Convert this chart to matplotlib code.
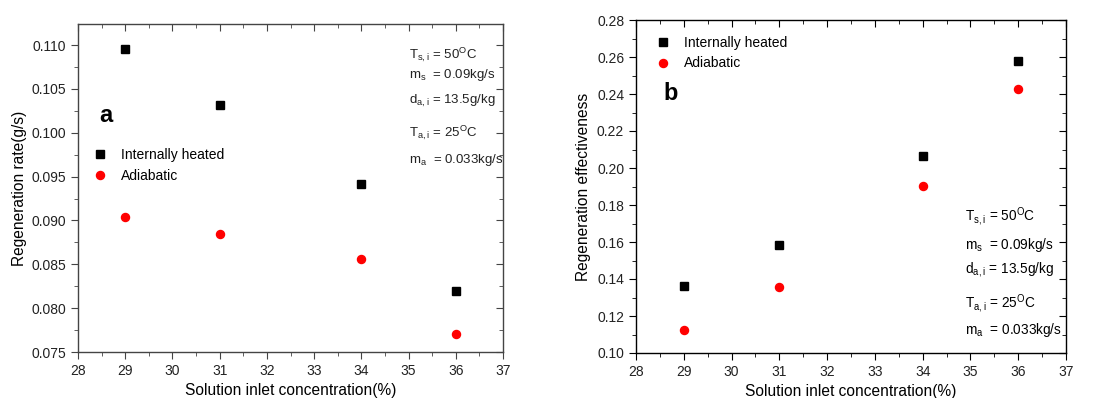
import numpy as np
import matplotlib.pyplot as plt
from matplotlib.ticker import MultipleLocator

plt.rcParams['font.family'] = ['Liberation Sans', 'DejaVu Sans']
plt.rcParams['mathtext.default'] = 'regular'

conc = [29, 31, 34, 36]

# regeneration rate (g/s)
rate_heated = [0.1095, 0.1032, 0.0942, 0.0820]
rate_adiabatic = [0.0904, 0.0885, 0.0856, 0.0771]

# regeneration effectiveness
eff_heated = [0.1364, 0.1584, 0.2063, 0.2578]
eff_adiabatic = [0.1126, 0.1357, 0.1903, 0.2425]

conditions = [r'T$_{s,i}$ = 50$^{O}$C',
              r'm$_{s}$  = 0.09kg/s',
              r'd$_{a,i}$ = 13.5g/kg',
              r'T$_{a,i}$ = 25$^{O}$C',
              r'm$_{a}$  = 0.033kg/s']

W, H = 1100, 398
fig = plt.figure(figsize=(W / 100, H / 100), dpi=100)


def px_axes(l, t, r, b):
    return fig.add_axes([l / W, 1 - b / H, (r - l) / W, (b - t) / H])


def style(ax, col):
    for s in ax.spines.values():
        s.set_color(col)
        s.set_linewidth(1.0)
    ax.xaxis.set_major_locator(MultipleLocator(1))
    ax.xaxis.set_minor_locator(MultipleLocator(0.5))
    ax.tick_params(which='both', colors=col, labelcolor='#222222', labelsize=10)
    ax.tick_params(which='major', length=5)
    ax.tick_params(which='minor', length=3)
    ax.tick_params(which='both', top=True, right=True)
    # mirrored ticks on top/right point into the frame
    for t in ax.xaxis.get_major_ticks() + ax.xaxis.get_minor_ticks():
        t.tick2line.set_marker(3)
    for t in ax.yaxis.get_major_ticks() + ax.yaxis.get_minor_ticks():
        t.tick2line.set_marker(0)
    ax.set_xlabel('Solution inlet concentration(%)', fontsize=11.2, labelpad=4)


# panel a
ax1 = px_axes(78, 24, 503, 352)
ax1.plot(conc, rate_heated, 's', color='black', ms=5.3, label='Internally heated')
ax1.plot(conc, rate_adiabatic, 'o', color='red', ms=5.8, label='Adiabatic')
ax1.set_xlim(28, 37)
ax1.set_ylim(0.075, 0.1124)
ax1.yaxis.set_major_locator(MultipleLocator(0.005))
ax1.yaxis.set_minor_locator(MultipleLocator(0.0025))
ax1.yaxis.set_major_formatter(lambda v, p: f'{v:.3f}')
style(ax1, '#444444')
ax1.set_ylabel('Regeneration rate(g/s)', fontsize=11.2, labelpad=3)
ax1.legend(loc='upper left', bbox_to_anchor=(0.02, 0.64), frameon=False,
           fontsize=10, handletextpad=0.9, handlelength=1.2, labelspacing=0.5,
           borderaxespad=0)
ax1.text(0.05, 0.72, 'a', transform=ax1.transAxes, fontsize=17,
         fontweight='bold', va='center')
for txt, y in zip(conditions, [0.905, 0.843, 0.765, 0.668, 0.585]):
    ax1.text(0.779, y, txt, transform=ax1.transAxes, fontsize=9.5,
             va='center', color='#222222')

# panel b
ax2 = px_axes(636, 20, 1066, 353)
ax2.plot(conc, eff_heated, 's', color='black', ms=5.3, label='Internally heated')
ax2.plot(conc, eff_adiabatic, 'o', color='red', ms=5.8, label='Adiabatic')
ax2.set_xlim(28, 37)
ax2.set_ylim(0.10, 0.28)
ax2.yaxis.set_major_locator(MultipleLocator(0.02))
ax2.yaxis.set_minor_locator(MultipleLocator(0.01))
ax2.yaxis.set_major_formatter(lambda v, p: f'{v:.2f}')
style(ax2, 'black')
ax2.set_ylabel('Regeneration effectiveness', fontsize=11.2, labelpad=4)
ax2.legend(loc='upper left', bbox_to_anchor=(0.03, 0.97), frameon=False,
           fontsize=10, handletextpad=0.9, handlelength=1.2, labelspacing=0.5,
           borderaxespad=0)
ax2.text(0.065, 0.78, 'b', transform=ax2.transAxes, fontsize=17,
         fontweight='bold', va='center')
for txt, y in zip(conditions, [0.41, 0.325, 0.25, 0.148, 0.07]):
    ax2.text(0.765, y, txt, transform=ax2.transAxes, fontsize=9.8,
             va='center')

fig.savefig('out.png', dpi=100)
